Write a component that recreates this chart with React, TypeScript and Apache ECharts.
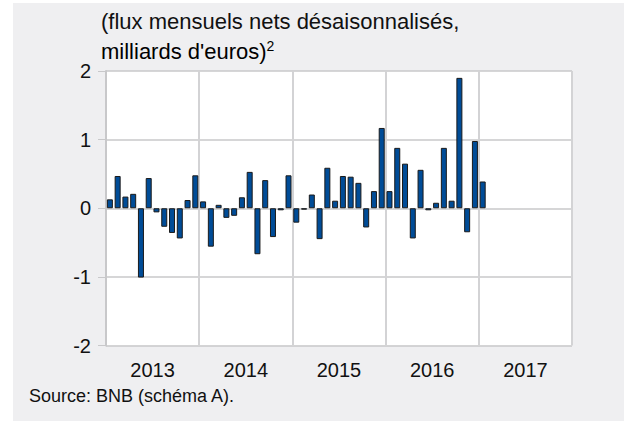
import React, { useEffect, useRef } from "react";
import * as echarts from "echarts";

const years = ["2013", "2014", "2015", "2016", "2017"];
const yTicks = [-2, -1, 0, 1, 2];
// Monthly values from Jan 2013 to Jan 2017
const monthlyFlows = [
  0.13, 0.47, 0.17, 0.21, -1.01, 0.44, -0.06, -0.27, -0.36, -0.44, 0.12, 0.48,
  0.1, -0.56, 0.05, -0.14, -0.11, 0.16, 0.53, -0.67, 0.41, -0.42, -0.03, 0.48,
  -0.21, -0.02, 0.2, -0.45, 0.59, 0.11, 0.47, 0.46, 0.37, -0.28, 0.25, 1.17,
  0.25, 0.88, 0.65, -0.44, 0.56, -0.03, 0.08, 0.88, 0.11, 1.9, -0.35, 0.98,
  0.39,
];
const titleLine1 = "(flux mensuels nets désaisonnalisés,";
const titleLine2 = "milliards d'euros)";
const titleSup = "2";
const sourceText = "Source: BNB (schéma A).";

export default function App() {
  const ref = useRef<HTMLDivElement>(null);
  useEffect(() => {
    if (!ref.current) return;
    const chart = echarts.init(ref.current, null, { renderer: "svg" });
    const font = "Liberation Sans, Arial, sans-serif";
    const totalMonths = years.length * 12;
    chart.setOption({
      animation: false,
      backgroundColor: "#ffffff",
      graphic: [
        {
          type: "rect",
          z: -10,
          silent: true,
          shape: { x: 13, y: 3, width: 624, height: 421 },
          style: { fill: "#efeff1" },
        },
        {
          type: "rect",
          z: -9,
          silent: true,
          shape: { x: 106, y: 71, width: 466, height: 274.5 },
          style: { fill: "#ffffff" },
        },
        {
          type: "text",
          x: 101,
          y: 21.5,
          style: {
            text: titleLine1,
            font: `22px ${font}`,
            fill: "#111",
            verticalAlign: "middle",
          },
        },
        {
          type: "text",
          x: 101,
          y: 51,
          style: {
            text: `{a|${titleLine2}}{s|${titleSup}}`,
            verticalAlign: "middle",
            rich: {
              a: { fontSize: 22, fontFamily: font, color: "#111" },
              s: {
                fontSize: 14,
                fontFamily: font,
                color: "#111",
                verticalAlign: "top",
                padding: [0, 0, 10, 0],
              },
            },
          },
        },
        {
          type: "text",
          x: 29,
          y: 396,
          style: {
            text: sourceText,
            font: `18px ${font}`,
            fill: "#111",
            verticalAlign: "middle",
          },
        },
      ],
      grid: { left: 106, top: 71, right: 52, bottom: 75.5 },
      xAxis: [
        {
          type: "value",
          min: 0,
          max: totalMonths,
          interval: 12,
          axisLine: { show: false },
          axisTick: { show: false },
          axisLabel: { show: false },
          splitLine: { show: true, lineStyle: { color: "#d3d3d5", width: 2 } },
        },
        {
          type: "category",
          data: years,
          position: "bottom",
          boundaryGap: true,
          axisLine: { show: false },
          axisTick: { show: false },
          axisLabel: {
            fontSize: 20,
            fontFamily: font,
            color: "#111",
            margin: 14,
          },
          splitLine: { show: false },
        },
      ],
      yAxis: {
        type: "value",
        min: yTicks[0],
        max: yTicks[yTicks.length - 1],
        interval: 1,
        axisLine: { show: true, lineStyle: { color: "#c8c8ca", width: 2 } },
        axisTick: { show: true, length: 8, lineStyle: { color: "#c8c8ca" } },
        axisLabel: {
          fontSize: 20,
          fontFamily: font,
          color: "#111",
          margin: 15,
        },
        splitLine: { show: true, lineStyle: { color: "#c8c8ca", width: 1.5 } },
      },
      series: [
        {
          type: "bar",
          xAxisIndex: 0,
          barWidth: 6,
          data: monthlyFlows.map((v, i) => [i + 0.5, v]),
          itemStyle: {
            color: "#004c97",
            borderColor: "#1a1a1a",
            borderWidth: 1,
          },
        },
      ],
    });
    return () => chart.dispose();
  }, []);
  return (
    <div
      ref={ref}
      style={{ position: "fixed", left: 0, top: 0, width: 624, height: 421 }}
    />
  );
}
